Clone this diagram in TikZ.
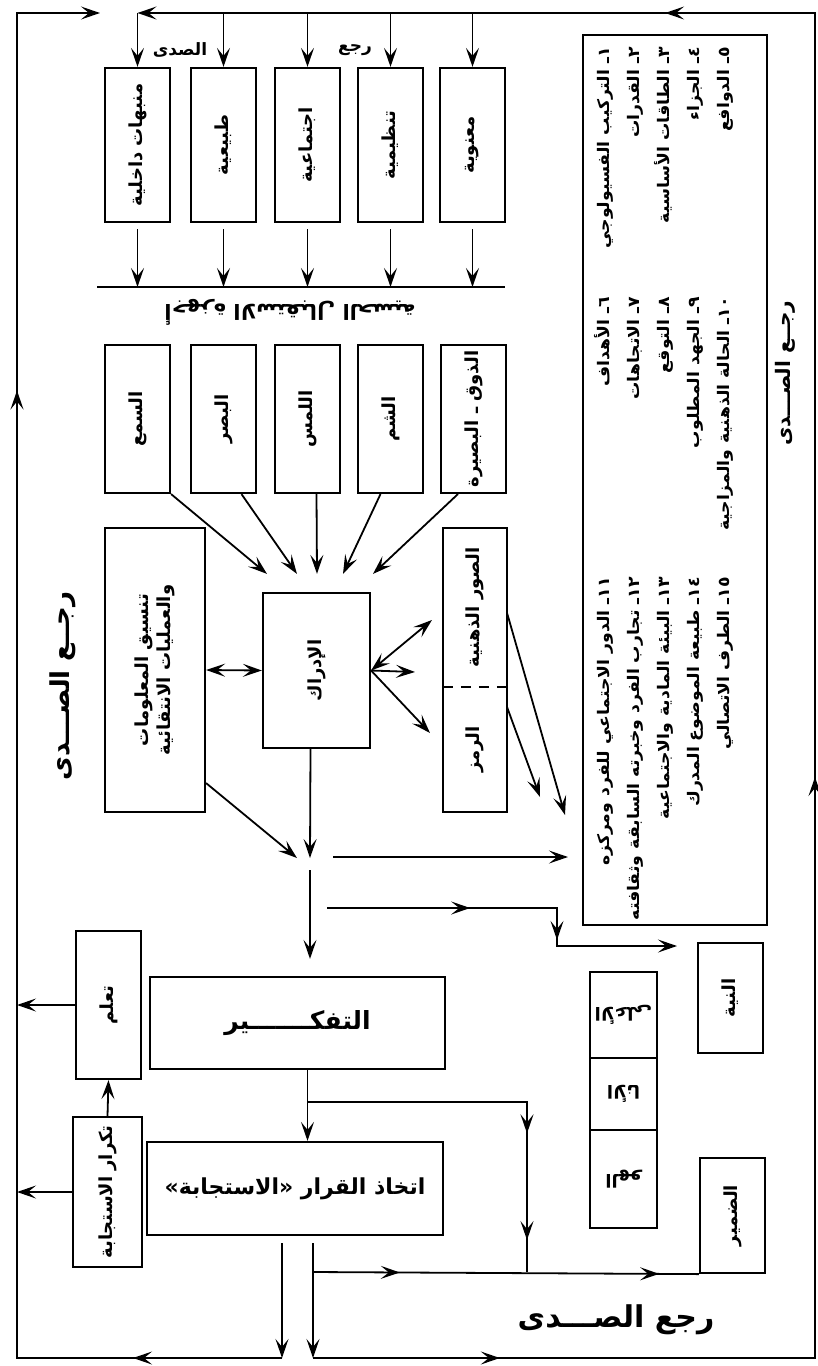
\documentclass[tikz,border=0pt]{standalone}
\usepackage{fontspec}
\newfontfamily\arfont[Script=Arabic]{DejaVu Sans}
\newfontfamily\arwide[Script=Arabic,FakeStretch=1.08]{DejaVu Sans}
\TeXXeTstate=1
\usetikzlibrary{arrows.meta,decorations.markings,calc}
\newcommand\AR[1]{\beginR#1\endR}
\newcommand\RT[1]{\rotatebox{90}{\AR{#1}}}
\newcommand\AH{Stealth[length=19pt,width=13pt,inset=8pt]}
\begin{document}
\begin{tikzpicture}[x=1pt,y=-1pt,
  ln/.style={line width=1.8pt},
  arr/.style={ln,-{Stealth[length=19pt,width=13pt,inset=8pt]}},
  darr/.style={ln,{Stealth[length=19pt,width=13pt,inset=8pt]}-{Stealth[length=19pt,width=13pt,inset=8pt]}},
  box/.style={draw,line width=2.2pt,inner sep=0pt,font=\arfont\bfseries\fontsize{18}{22}\selectfont},
  txt/.style={inner sep=0pt,font=\arfont\bfseries\fontsize{18}{22}\selectfont},
  lst/.style={inner sep=0pt,font=\arwide\bfseries\fontsize{16}{30}\selectfont},
  mids/.style={postaction={decorate},decoration={markings,#1}}
]
\fill[white] (0,0) rectangle (818,1366);
\useasboundingbox (0,0) rectangle (818,1366);

% ---------- stimuli boxes
\node[box,minimum width=65pt,minimum height=154pt] (t1) at (137.5,145) {\RT{منبهات داخلية}};
\node[box,minimum width=65pt,minimum height=154pt] (t2) at (223.5,145) {\RT{طبيعية}};
\node[box,minimum width=65pt,minimum height=154pt] (t3) at (307.5,145) {\RT{اجتماعية}};
\node[box,minimum width=65pt,minimum height=154pt] (t4) at (390.5,145) {\RT{تنظيمية}};
\node[box,minimum width=65pt,minimum height=154pt] (t5) at (472.5,145) {\RT{معنوية}};
\node[txt,font=\arfont\bfseries\fontsize{17}{20}\selectfont] (lsada) at (180,50) {\AR{الصدى}};
\node[txt,font=\arfont\bfseries\fontsize{17}{20}\selectfont] (lraja) at (355,50) {\AR{رجع}};

% bar
\coordinate (barL) at (97,287);
\coordinate (barR) at (505,287);
\draw[line width=2pt] (barL) -- (barR);
\foreach \n in {t1,t2,t3,t4,t5}{\draw[arr] ([yshift=-6pt]\n.south) -- (\n.south |- barL);}
\node[txt,font=\arfont\bfseries\fontsize{21}{24}\selectfont] (title) at (290,312) {\rotatebox{180}{\AR{أجهزة الاستقبال الحسية}}};

% ---------- senses
\node[box,minimum width=65pt,minimum height=148pt] (s1) at (137.5,419) {\RT{السمع}};
\node[box,minimum width=65pt,minimum height=148pt] (s2) at (223.5,419) {\RT{البصر}};
\node[box,minimum width=65pt,minimum height=148pt] (s3) at (307.5,419) {\RT{اللمس}};
\node[box,minimum width=65pt,minimum height=148pt] (s4) at (390.5,419) {\RT{الشم}};
\node[box,minimum width=65pt,minimum height=148pt] (s5) at (473.5,419) {\RT{الذوق ـ البصيرة}};

% perception, info, symbols
\node[box,minimum width=107pt,minimum height=155pt] (p) at (316.5,670.5) {\RT{الإدراك}};
\node[box,minimum width=100pt,minimum height=284pt] (i) at (155,670)
  {\rotatebox{90}{\begin{tabular}{@{}c@{}}\AR{تنسيق المعلومات}\\\AR{والعمليات الانتقائية}\end{tabular}}};
\node[txt,minimum width=64pt,minimum height=159pt] (m1) at (475,607.5) {\RT{الصور الذهنية}};
\node[txt,minimum width=64pt,minimum height=125pt] (m2) at (475,749.5) {\RT{الرمز}};
\draw[line width=2.2pt] (m1.north west) rectangle (m2.south east);
\draw[line width=2.2pt,dash pattern=on 10pt off 8pt] (m1.south west) -- (m1.south east);

\draw[arr] (s1.south east) -- ([xshift=-49.5pt,yshift=18pt]p.north);
\draw[arr] ([xshift=18pt]s2.south) -- ([xshift=-19.5pt,yshift=18pt]p.north);
\draw[arr] ([xshift=9pt]s3.south) -- ([xshift=0.5pt,yshift=18pt]p.north);
\draw[arr] ([xshift=-10pt]s4.south) -- ([xshift=26.5pt,yshift=18pt]p.north);
\draw[arr] ([xshift=18pt]s5.south west) -- ([xshift=56.5pt,yshift=18pt]p.north);

\draw[darr] (i.east) -- (p.west);
\coordinate (mA) at (432,620);
\coordinate (mB) at (415,672);
\coordinate (mC) at (430,733);
\draw[darr] (p.east) -- (mA);
\draw[arr] (p.east) -- (mB);
\draw[arr] (p.east) -- (mC);

% ---------- list box
\node[draw,line width=2.2pt,minimum width=184pt,minimum height=890pt,inner sep=0pt] (L) at (675,480) {};
\node[lst,anchor=north west] (L1) at (588,47) {\rotatebox{90}{\begin{tabular}{@{}r@{}}%
\AR{١ـ التركيب الفسيولوجي}\\\AR{٢ـ القدرات}\\\AR{٣ـ الطاقات الأساسية}\\\AR{٤ـ الجزاء}\\\AR{٥ـ الدوافع}\end{tabular}}};
\node[lst,anchor=north west] (L2) at (588,297) {\rotatebox{90}{\begin{tabular}{@{}r@{}}%
\AR{٦ـ الأهداف}\\\AR{٧ـ الاتجاهات}\\\AR{٨ـ التوقع}\\\AR{٩ـ الجهد المطلوب}\\\AR{١٠ـ الحالة الذهنية والمزاجية}\end{tabular}}};
\node[lst,anchor=north west] (L3) at (588,577) {\rotatebox{90}{\begin{tabular}{@{}r@{}}%
\AR{١١ـ الدور الاجتماعي للفرد ومركزه}\\\AR{١٢ـ تجارب الفرد وخبرته السابقة وثقافته}\\\AR{١٣ـ البيئة المادية والاجتماعية}\\\AR{١٤ـ طبيعة الموضوع المدرك}\\\AR{١٥ـ الطرف الاتصالي}\end{tabular}}};

\coordinate (LA) at (565,815);
\coordinate (LB) at (540,797);
\draw[arr] ([yshift=-6pt]m1.east) -- (LA);
\draw[arr] ([yshift=42pt]m2.east) -- (LB);

% ---------- junction
\coordinate (JI) at (297,858);
\coordinate (JP) at (310,858);
\draw[arr] ([yshift=30pt]i.south east) -- (JI);
\draw[arr] ([xshift=-6pt]p.south) -- (JP);

% thinking etc.
\node[box,minimum width=295pt,minimum height=92pt,font=\arfont\bfseries\fontsize{25}{28}\selectfont] (th) at (297.5,1023) {\AR{التفكـــــــير}};
\node[box,minimum width=296pt,minimum height=93pt,font=\arfont\bfseries\fontsize{22}{26}\selectfont] (d) at (295,1188.5) {\AR{اتخاذ القرار «الاستجابة»}};
\node[box,minimum width=65pt,minimum height=148pt] (lr) at (108.5,1005) {\RT{تعلم}};
\node[box,minimum width=69pt,minimum height=150pt] (rp) at (107.5,1192) {\RT{تكرار الاستجابة}};
\node[box,minimum width=65pt,minimum height=110pt] (n) at (730.5,998) {\RT{النية}};
\node[box,minimum width=65pt,minimum height=115pt] (c) at (732.5,1215.5) {\RT{الضمير}};
\node[box,minimum width=67pt,minimum height=86pt] (e1) at (623.5,1015) {\rotatebox{180}{\AR{الأعلى}}};
\node[box,minimum width=67pt,minimum height=72pt] (e2) at (623.5,1094) {\rotatebox{180}{\AR{الأنا}}};
\node[box,minimum width=67pt,minimum height=98pt] (e3) at (623.5,1179) {\rotatebox{180}{\AR{الهو}}};

\coordinate (J0) at (310,870);
\draw[arr] (J0) -- ([xshift=12.5pt,yshift=17pt]th.north);
\coordinate (H1a) at (333,857);
\coordinate (H1b) at (568,857);
\draw[arr] (H1a) -- (H1b);
\coordinate (H2a) at (327,908);
\coordinate (H2b) at (557,908);
\coordinate (H2c) at (557,946);
\coordinate (H2d) at (677,946);
\draw[arr,mids={mark=at position 0.369 with {\arrow{\AH}},mark=at position 0.675 with {\arrow{\AH}}}] (H2a) -- (H2b) -- (H2c) -- (H2d);

\draw[arr] ([xshift=10pt]th.south) -- ([xshift=10pt]th.south |- d.north);
\coordinate (B0) at (307.5,1102);
\coordinate (B1) at (527,1102);
\coordinate (B2) at (527,1272);
\draw[ln,mids={mark=at position 0.644 with {\arrow{\AH}},mark=at position 0.918 with {\arrow{\AH}}}] (B0) -- (B1) -- (B2);
\coordinate (C0) at (313,1272);
\draw[ln,mids={mark=at position 0.225 with {\arrow{\AH}},mark=at position 0.897 with {\arrow{\AH}}}] (C0) -- (c.south west);

\draw[arr] (rp.north) -- (lr.south);

% ---------- outer feedback loops
\coordinate (FLb) at (17,1358);
\coordinate (FLt) at (17,13);
\coordinate (FLe) at (100,13);
\coordinate (FRb) at (815,1358);
\coordinate (FRt) at (815,13);
\coordinate (TT) at (t1.north |- FLt);
\coordinate (dL) at (282,1243);
\coordinate (dLb) at (282,1358);
\coordinate (dR) at (313,1243);
\coordinate (dRb) at (313,1358);
\draw[arr] (dL) -- (dLb);
\draw[arr] (dR) -- (dRb);
\draw[arr,mids={mark=at position 0.088 with {\arrow{\AH}},mark=at position 0.728 with {\arrow{\AH}}}] (dLb) -- (FLb) -- (FLt) -- (FLe);
\draw[arr,mids={mark=at position 0.074 with {\arrow{\AH}},mark=at position 0.429 with {\arrow{\AH}},mark=at position 0.791 with {\arrow{\AH}}}] (dRb) -- (FRb) -- (FRt) -- (TT);
\foreach \n in {t1,t2,t3,t4,t5}{\draw[arr] (\n.north |- FLt) -- (\n.north);}
\draw[arr] (lr.west) -- (lr.west -| FLb);
\draw[arr] (rp.west) -- (rp.west -| FLb);

\node[txt,font=\arfont\bfseries\fontsize{26}{30}\selectfont] (fbL) at (63,686) {\RT{رجــع الصـــدى}};
\node[txt,font=\arfont\bfseries\fontsize{20}{24}\selectfont] (fbR) at (785,373) {\RT{رجــع الصـــدى}};
\node[txt,font=\arfont\bfseries\fontsize{30}{34}\selectfont] (fbB) at (616,1320) {\AR{رجع الصـــدى}};
\end{tikzpicture}
\end{document}
